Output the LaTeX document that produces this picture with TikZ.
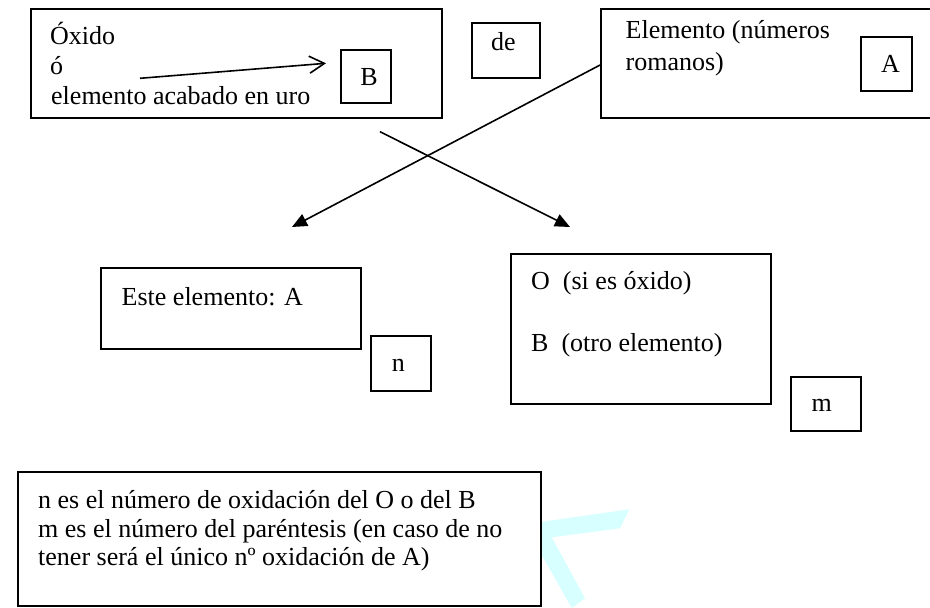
\documentclass[tikz,border=0pt]{standalone}
\usepackage{fontspec}
\setmainfont{Liberation Serif}
\usetikzlibrary{arrows.meta}
\definecolor{wmcyan}{RGB}{215,255,255}
\begin{document}
\begin{tikzpicture}[x=1pt,y=-1pt,
  box/.style={draw=black,line width=1.8pt,fill=white,inner sep=0pt},
  txt/.style={anchor=base west,inner sep=0pt,font=\fontsize{26}{30}\selectfont},
  btxt/.style={anchor=base,inner sep=0pt,font=\fontsize{26}{30}\selectfont},
  conn/.style={line width=1.6pt},
  tri/.style={-{Triangle[length=15pt,width=13pt]}},
  barb/.style={-{Straight Barb[length=15pt,width=17pt,line width=1.6pt]}}
]
\useasboundingbox (0,0) rectangle (930,608);
\begin{scope}
\clip (0,0) rectangle (930,608);
% watermark
\fill[wmcyan] (524.4,524.3) -- (629.3,509.3) -- (620,528.3) -- (551.7,537.3)
  -- (585,598.3) -- (571.7,608) -- cycle;
% boxes
\node[box,minimum width=411.3pt,minimum height=109pt] (b1) at (236.35,63.5) {};
\node[box,minimum width=50pt,minimum height=53pt] (bB) at (366,76.5) {};
\node[box,minimum width=68pt,minimum height=55pt] (bde) at (506,50.5) {};
\node[box,minimum width=344pt,minimum height=109pt] (bel) at (773,63.5) {};
\node[box,minimum width=51pt,minimum height=54pt] (bA) at (886.5,64) {};
\node[box,minimum width=260.3pt,minimum height=81pt] (bes) at (230.85,308.5) {};
\node[box,minimum width=60pt,minimum height=55pt] (bn) at (401,363.5) {};
\node[box,minimum width=260pt,minimum height=150pt] (bO) at (641,329) {};
\node[box,minimum width=70pt,minimum height=54pt] (bm) at (826,404) {};
\node[box,minimum width=523pt,minimum height=134pt] (bbot) at (279.5,539) {};
% texts
\node[txt] (t1a) at (50,44) {Óxido};
\node[txt] (t1b) at (50,74.5) {ó};
\node[txt] (t1c) at (51,104) {elemento acabado en uro};
\node[btxt] (tB) at (369,85) {B};
\node[btxt] (tde) at (503.5,50) {de};
\node[txt] (tel1) at (625.5,38.3) {Elemento (números};
\node[txt] (tel2) at (625.5,70) {romanos)};
\node[btxt] (tA) at (890.5,72) {A};
\node[txt] (tes) at (121.5,305) {Este elemento: A};
\node[btxt] (tn) at (398.3,371.7) {n};
\node[txt] (tO1) at (531,289) {O\ \ (si es óxido)};
\node[txt] (tO2) at (531,351) {B\ \ (otro elemento)};
\node[btxt] (tm) at (821.7,411.7) {m};
\node[txt] (tb1) at (38,508) {n es el número de oxidación del O o del B};
\node[txt] (tb2) at (38,537) {m es el número del paréntesis (en caso de no};
\node[txt] (tb3) at (38,565) {tener será el único nº oxidación de A)};
% connectors
\coordinate (aS) at (140,78.3);
\coordinate (aE) at (326,63.3);
\draw[conn,barb] (aS) -- (aE);
\coordinate (xS) at (380,131.7);
\coordinate (tipL) at (292,227);
\coordinate (tipR) at (570,227);
\draw[conn,tri] ([yshift=-1.5pt]bel.west) -- (tipL);
\draw[conn,tri] (xS) -- (tipR);
\end{scope}
\end{tikzpicture}
\end{document}
